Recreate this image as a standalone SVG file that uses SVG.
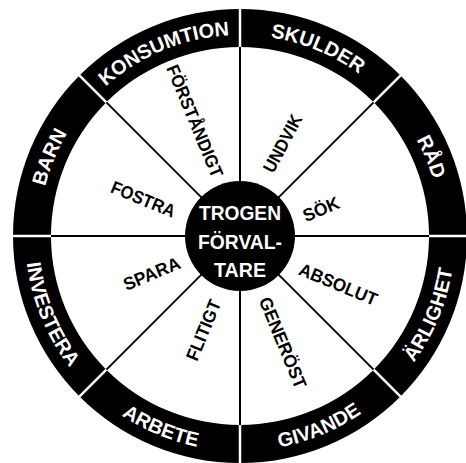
<svg xmlns="http://www.w3.org/2000/svg" width="466" height="463" viewBox="0 0 466 463">
<style>
.ring{font-family:"Liberation Sans",Arial,sans-serif;font-weight:bold;font-size:20px;fill:#fff}
.inner{font-family:"Liberation Sans",Arial,sans-serif;font-weight:bold;font-size:18px;fill:#000;text-anchor:middle}
.hub{font-family:"Liberation Sans",Arial,sans-serif;font-weight:bold;font-size:20px;fill:#fff;text-anchor:middle}
.spoke{stroke:#000;stroke-width:2}
.divider{stroke:#fff;stroke-width:2.5}
</style>
<defs>
<path id="pBARN" d="M48.3,296.4 A201,201 0 0 1 147.2,57.7"/>
<path id="pKONS" d="M61.7,143.2 A201,201 0 0 1 300.4,44.3"/>
<path id="pSKUL" d="M179.6,44.3 A201,201 0 0 1 418.3,143.2"/>
<path id="pRAD" d="M332.8,57.7 A201,201 0 0 1 431.7,296.4"/>
<path id="pARL" d="M339.3,426.7 A215,215 0 0 0 445.0,171.3"/>
<path id="pGIV" d="M175.3,441.0 A215,215 0 0 0 430.7,335.3"/>
<path id="pARB" d="M49.3,335.3 A215,215 0 0 0 304.7,441.0"/>
<path id="pINV" d="M35.0,171.3 A215,215 0 0 0 140.7,426.7"/>
</defs>
<g id="ring">
<circle cx="240" cy="236" r="227" fill="#000"/>
</g>
<g id="connectors">
<line class="divider" x1="10" y1="236" x2="470" y2="236"/>
<line class="divider" x1="240" y1="6" x2="240" y2="466"/>
<line class="divider" x1="77.4" y1="73.4" x2="402.6" y2="398.6"/>
<line class="divider" x1="402.6" y1="73.4" x2="77.4" y2="398.6"/>
<circle cx="240" cy="236" r="189" fill="#fff"/>
<line class="spoke" x1="51" y1="236" x2="429" y2="236"/>
<line class="spoke" x1="240" y1="47" x2="240" y2="425"/>
<line class="spoke" x1="106.4" y1="102.4" x2="373.6" y2="369.6"/>
<line class="spoke" x1="373.6" y1="102.4" x2="106.4" y2="369.6"/>
</g>
<g id="hub">
<circle cx="240" cy="236" r="55" fill="#000"/>
<text class="hub" x="240" y="220" textLength="82" lengthAdjust="spacingAndGlyphs">TROGEN</text>
<text class="hub" x="240" y="248.5" textLength="84" lengthAdjust="spacingAndGlyphs">FÖRVAL-</text>
<text class="hub" x="240" y="277" textLength="52" lengthAdjust="spacingAndGlyphs">TARE</text>
</g>
<g id="outer-labels">
<g id="barn"><text class="ring"><textPath href="#pBARN" startOffset="50%" text-anchor="middle">BARN</textPath></text></g>
<g id="konsumtion"><text class="ring"><textPath href="#pKONS" startOffset="50%" text-anchor="middle">KONSUMTION</textPath></text></g>
<g id="skulder"><text class="ring"><textPath href="#pSKUL" startOffset="50%" text-anchor="middle">SKULDER</textPath></text></g>
<g id="rad"><text class="ring"><textPath href="#pRAD" startOffset="50%" text-anchor="middle">RÅD</textPath></text></g>
<g id="arlighet"><text class="ring"><textPath href="#pARL" startOffset="50%" text-anchor="middle">ÄRLIGHET</textPath></text></g>
<g id="givande"><text class="ring"><textPath href="#pGIV" startOffset="50%" text-anchor="middle">GIVANDE</textPath></text></g>
<g id="arbete"><text class="ring"><textPath href="#pARB" startOffset="50%" text-anchor="middle">ARBETE</textPath></text></g>
<g id="investera"><text class="ring"><textPath href="#pINV" startOffset="50%" text-anchor="middle">INVESTERA</textPath></text></g>
</g>
<g id="inner-labels">
<g id="forstandigt" transform="translate(195,121) rotate(67.5)"><text class="inner" x="0" y="6.4" textLength="120" lengthAdjust="spacingAndGlyphs">FÖRSTÅNDIGT</text></g>
<g id="undvik" transform="translate(282.5,143.3) rotate(-62)"><text class="inner" x="0" y="6.4" textLength="63" lengthAdjust="spacingAndGlyphs">UNDVIK</text></g>
<g id="sok" transform="translate(321,209) rotate(-22.5)"><text class="inner" x="0" y="6.4" textLength="38" lengthAdjust="spacingAndGlyphs">SÖK</text></g>
<g id="absolut" transform="translate(338.3,284.2) rotate(22.5)"><text class="inner" x="0" y="6.4" textLength="83" lengthAdjust="spacingAndGlyphs">ABSOLUT</text></g>
<g id="generost" transform="translate(283,342.7) rotate(67.5)"><text class="inner" x="0" y="6.4" textLength="97" lengthAdjust="spacingAndGlyphs">GENERÖST</text></g>
<g id="flitigt" transform="translate(203.3,330) rotate(-67.5)"><text class="inner" x="0" y="6.4" textLength="64" lengthAdjust="spacingAndGlyphs">FLITIGT</text></g>
<g id="spara" transform="translate(151.7,273.5) rotate(-22.5)"><text class="inner" x="0" y="6.4" textLength="60" lengthAdjust="spacingAndGlyphs">SPARA</text></g>
<g id="fostra" transform="translate(143.3,199) rotate(22.5)"><text class="inner" x="0" y="6.4" textLength="68" lengthAdjust="spacingAndGlyphs">FOSTRA</text></g>
</g>
</svg>
